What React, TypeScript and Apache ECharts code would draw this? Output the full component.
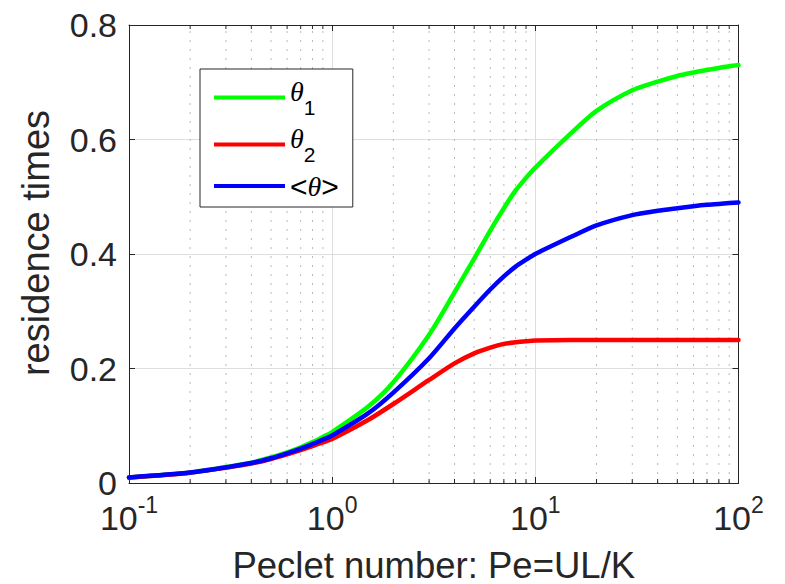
import React, { useEffect, useRef } from 'react';
import * as echarts from 'echarts';

// Peclet numbers (x) at which the curves were read
const peclet = [0.1, 0.2, 0.3, 0.4, 0.5, 0.6, 0.7, 0.8, 0.9, 1, 1.5, 2, 3, 4, 5, 6, 7, 8, 9, 10, 15, 20, 30, 40, 50, 60, 70, 80, 90, 100];

// θ1 (green)
const theta1 = [0.0098, 0.0185, 0.0278, 0.0355, 0.0445, 0.0535, 0.0625, 0.0715, 0.0805, 0.089, 0.133, 0.176, 0.259, 0.333, 0.392, 0.441, 0.48, 0.511, 0.533, 0.551, 0.611, 0.65, 0.686, 0.701, 0.711, 0.717, 0.7215, 0.725, 0.728, 0.73];

// θ2 (red)
const theta2 = [0.0095, 0.018, 0.0268, 0.034, 0.042, 0.05, 0.0575, 0.0645, 0.071, 0.077, 0.11, 0.138, 0.18, 0.209, 0.2265, 0.2365, 0.243, 0.2457, 0.2475, 0.2487, 0.2496, 0.2499, 0.25, 0.25, 0.25, 0.25, 0.25, 0.25, 0.25, 0.25];

// <θ> (blue)
const thetaMean = [0.0096, 0.0182, 0.0273, 0.0348, 0.0433, 0.0518, 0.06, 0.068, 0.0758, 0.083, 0.1215, 0.158, 0.218, 0.27, 0.308, 0.338, 0.361, 0.378, 0.39, 0.4, 0.43, 0.45, 0.468, 0.4755, 0.48, 0.4835, 0.486, 0.4875, 0.489, 0.49];

const seriesNames = ['θ1', 'θ2', '<θ>'];
const seriesColors = ['#00ff00', '#ff0000', '#0000ff'];

const xMajorTicks = [0.1, 1, 10, 100];
const xTickExponents = ['-1', '0', '1', '2'];
const xMinorTicks = [0.2, 0.3, 0.4, 0.5, 0.6, 0.7, 0.8, 0.9, 2, 3, 4, 5, 6, 7, 8, 9, 20, 30, 40, 50, 60, 70, 80, 90];

const xTitle = 'Peclet number: Pe=UL/K';
const yTitle = 'residence times';

const AXIS = '#262626';
const FONT = 'Liberation Sans';

export default function App() {
  const ref = useRef<HTMLDivElement>(null);

  useEffect(() => {
    document.body.style.margin = '0';
    document.body.style.overflow = 'hidden';
    const chart = echarts.init(ref.current as HTMLDivElement, null, { renderer: 'svg' });

    const zip = (ys: number[]) => peclet.map((x, i) => [x, ys[i]]);
    const yData = [theta1, theta2, thetaMean];

    const lineSeries = seriesNames.map((name, i) => ({
      name,
      type: 'line',
      xAxisIndex: 0,
      yAxisIndex: 0,
      data: zip(yData[i]),
      showSymbol: false,
      symbol: 'none',
      smooth: 0.25,
      lineStyle: { color: seriesColors[i], width: 4.5, join: 'round', cap: 'round' },
      itemStyle: { color: seriesColors[i] },
      z: 3,
    }));

    const minorSeries = {
      type: 'custom',
      name: 'minor',
      xAxisIndex: 0,
      yAxisIndex: 0,
      silent: true,
      z: 1,
      data: xMinorTicks.map((v) => [v, 0]),
      encode: { x: 0, y: 1 },
      renderItem: (_params: any, api: any) => {
        const v = api.value(0);
        const b = api.coord([v, 0]);
        const t = api.coord([v, 0.8]);
        return {
          type: 'group',
          children: [
            {
              type: 'line',
              shape: { x1: b[0], y1: b[1], x2: t[0], y2: t[1] },
              style: { stroke: '#b9b9b9', lineWidth: 1, lineDash: [2, 7] },
            },
            {
              type: 'line',
              shape: { x1: b[0], y1: b[1], x2: b[0], y2: b[1] - 4 },
              style: { stroke: AXIS, lineWidth: 1 },
            },
            {
              type: 'line',
              shape: { x1: t[0], y1: t[1], x2: t[0], y2: t[1] + 4 },
              style: { stroke: AXIS, lineWidth: 1 },
            },
          ],
        };
      },
    };

    const xLabel = (v: number) => {
      const i = xMajorTicks.findIndex((t) => Math.abs(t - v) / t < 1e-6);
      return i >= 0 ? `{b|10}{e|${xTickExponents[i]}}` : '';
    };

    const legendFormatter = (name: string) => {
      if (name === seriesNames[0]) return '{t|θ}{s|1}';
      if (name === seriesNames[1]) return '{t|θ}{s|2}';
      return '{a|<}{tm|θ}{a|>}';
    };

    const option: any = {
      animation: false,
      backgroundColor: '#ffffff',
      grid: { left: 129, top: 25, width: 609.5, height: 458, containLabel: false, outerBoundsMode: 'none' },
      xAxis: [
        {
          type: 'log',
          logBase: 10,
          min: 0.1,
          max: 100,
          position: 'bottom',
          name: xTitle,
          nameLocation: 'middle',
          nameGap: 67,
          nameTextStyle: { fontFamily: FONT, fontSize: 36.5, lineHeight: 30, color: AXIS },
          axisLine: { show: true, onZero: false, lineStyle: { color: AXIS, width: 1 } },
          axisTick: { show: true, inside: true, length: 6, lineStyle: { color: AXIS, width: 1 } },
          axisLabel: {
            show: true,
            margin: 18,
            showMinLabel: true,
            showMaxLabel: true,
            formatter: xLabel,
            rich: {
              b: { fontFamily: FONT, fontSize: 34, color: AXIS, lineHeight: 34 },
              e: { fontFamily: FONT, fontSize: 23, color: AXIS, lineHeight: 18, padding: [0, 0, 26, 0] },
            },
          },
          splitLine: { show: true, lineStyle: { color: '#dedede', width: 1 } },
        },
        {
          type: 'log',
          logBase: 10,
          min: 0.1,
          max: 100,
          position: 'top',
          axisLine: { show: true, onZero: false, lineStyle: { color: AXIS, width: 1 } },
          axisTick: { show: true, inside: true, length: 6, lineStyle: { color: AXIS, width: 1 } },
          axisLabel: { show: false },
          splitLine: { show: false },
        },
      ],
      yAxis: [
        {
          type: 'value',
          min: 0,
          max: 0.8,
          interval: 0.2,
          position: 'left',
          name: yTitle,
          nameLocation: 'middle',
          nameGap: 77,
          nameTextStyle: { fontFamily: FONT, fontSize: 38, lineHeight: 32, color: AXIS, padding: [0, 0, 0, 22] },
          axisLine: { show: true, onZero: false, lineStyle: { color: AXIS, width: 1 } },
          axisTick: { show: true, inside: true, length: 6, lineStyle: { color: AXIS, width: 1 } },
          axisLabel: { show: true, margin: 12, fontFamily: FONT, fontSize: 34, lineHeight: 26, color: AXIS },
          splitLine: { show: true, lineStyle: { color: '#dedede', width: 1 } },
        },
        {
          type: 'value',
          min: 0,
          max: 0.8,
          interval: 0.2,
          position: 'right',
          axisLine: { show: true, onZero: false, lineStyle: { color: AXIS, width: 1 } },
          axisTick: { show: true, inside: true, length: 6, lineStyle: { color: AXIS, width: 1 } },
          axisLabel: { show: false },
          splitLine: { show: false },
        },
      ],
      legend: {
        show: true,
        data: seriesNames,
        orient: 'vertical',
        left: 200,
        top: 69,
        padding: [8, 14, 6, 14],
        itemGap: 6,
        itemWidth: 71,
        itemHeight: 4,
        icon: 'rect',
        selectedMode: false,
        backgroundColor: '#ffffff',
        borderColor: AXIS,
        borderWidth: 1,
        z: 10,
        formatter: legendFormatter,
        textStyle: {
          color: '#000000',
          rich: {
            t: { fontFamily: 'Liberation Serif', fontStyle: 'italic', fontSize: 28, lineHeight: 30, padding: [0, 0, 12, 0], color: '#000' },
            s: { fontFamily: FONT, fontSize: 21, lineHeight: 22, padding: [20, 0, 0, 0], color: '#000' },
            a: { fontFamily: FONT, fontSize: 30, lineHeight: 28, color: '#000' },
            tm: { fontFamily: 'Liberation Serif', fontStyle: 'italic', fontSize: 28, lineHeight: 28, color: '#000' },
          },
        },
      },
      series: [minorSeries, ...lineSeries],
    };

    chart.setOption(option);
    return () => chart.dispose();
  }, []);

  return (
    <div
      ref={ref}
      style={{ width: 785, height: 584, background: '#ffffff' }}
    />
  );
}
